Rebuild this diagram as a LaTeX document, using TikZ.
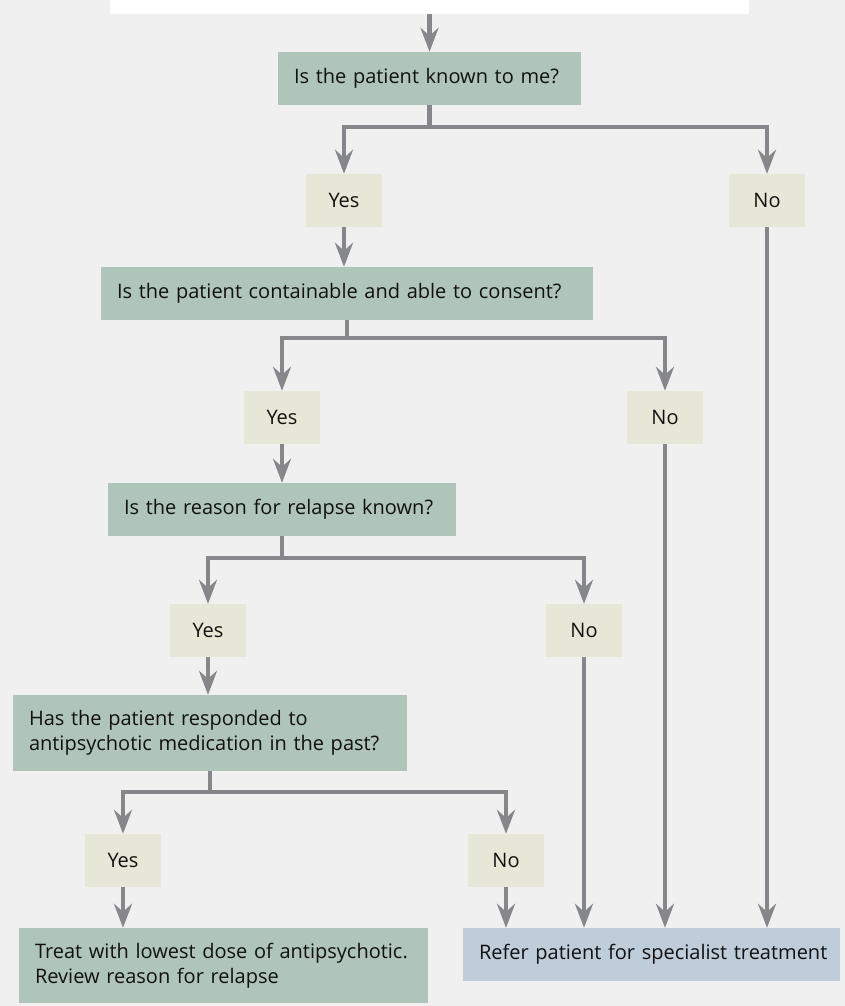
\documentclass[tikz,border=0pt]{standalone}
\usepackage{fontspec}
\setmainfont{Open Sans}
\usetikzlibrary{arrows.meta}

\definecolor{bgGray}{HTML}{F0F0F0}
\definecolor{qGreen}{HTML}{B0C5B9}
\definecolor{ansCream}{HTML}{E7E7D7}
\definecolor{referBlue}{HTML}{BFCCDA}
\definecolor{lineGray}{HTML}{86878B}
\definecolor{txtBlack}{HTML}{111111}

\begin{document}
\begin{tikzpicture}[x=1pt,y=-1pt,
    every node/.style={font=\fontsize{20}{25}\selectfont, text=txtBlack, inner sep=0pt},
    qbox/.style={fill=qGreen, inner xsep=16pt, align=left, minimum height=53pt},
    ansbox/.style={fill=ansCream, minimum width=76pt, minimum height=53pt},
    line/.style={draw=lineGray, line width=4.5pt},
    flow/.style={line, -{Stealth[length=24pt,width=18pt,inset=8pt]}}]
        % Background
        \fill[bgGray] (0,0) rectangle (845,1006);
        % Header box (cut off at the top)
        \node[fill=white, minimum width=639pt, minimum height=14pt] (header) at (429.5,7) {};
        % Questions
        \node[qbox, text width=271pt] (q1) at (429.5,78.5) {Is the patient known to me?};
        \node[qbox, text width=460pt] (q2) at (347,293.5) {Is the patient containable and able to consent?};
        \node[qbox, text width=316pt] (q3) at (282,509.5) {Is the reason for relapse known?};
        \node[qbox, text width=362pt, minimum height=76pt] (q4) at (210,733)
            {Has the patient responded to\\antipsychotic medication in the past?};
        % Answers
        \node[ansbox] (yes1) at (344,200.5) {Yes};
        \node[ansbox] (no1) at (767,200.5) {No};
        \node[ansbox] (yes2) at (282,417.5) {Yes};
        \node[ansbox] (no2) at (665,417.5) {No};
        \node[ansbox] (yes3) at (208,630.5) {Yes};
        \node[ansbox] (no3) at (584,630.5) {No};
        \node[ansbox] (yes4) at (123,860.5) {Yes};
        \node[ansbox] (no4) at (506,860.5) {No};
        % Outcomes
        \node[qbox, text width=377pt, minimum height=75pt] (treat) at (223.5,965.5)
            {Treat with lowest dose of antipsychotic.\\Review reason for relapse};
        \node[qbox, fill=referBlue, text width=345pt] (refer) at (651.5,954.5)
            {\mbox{Refer patient for specialist treatment}};
        % Connectors
        \draw[flow] (header) -- (q1);
        \draw[line] (q1.south) -- ++(0,22) coordinate (b1);
        \draw[flow] (b1) -| (yes1);
        \draw[flow] (b1) -| (no1);
        \draw[flow] (yes1) -- (yes1 |- q2.north);
        \draw[line] (q2.south) -- ++(0,18) coordinate (b2);
        \draw[flow] (b2) -| (yes2);
        \draw[flow] (b2) -| (no2);
        \draw[flow] (yes2) -- (yes2 |- q3.north);
        \draw[line] (q3.south) -- ++(0,22) coordinate (b3);
        \draw[flow] (b3) -| (yes3);
        \draw[flow] (b3) -| (no3);
        \draw[flow] (yes3) -- (yes3 |- q4.north);
        \draw[line] (q4.south) -- ++(0,21) coordinate (b4);
        \draw[flow] (b4) -| (yes4);
        \draw[flow] (b4) -| (no4);
        \draw[flow] (yes4) -- (yes4 |- treat.north);
        % All "No" answers lead to referral
        \draw[flow] (no4) -- (no4 |- refer.north);
        \draw[flow] (no3) -- (no3 |- refer.north);
        \draw[flow] (no2) -- (no2 |- refer.north);
        \draw[flow] (no1) -- (no1 |- refer.north);
\end{tikzpicture}
\end{document}
